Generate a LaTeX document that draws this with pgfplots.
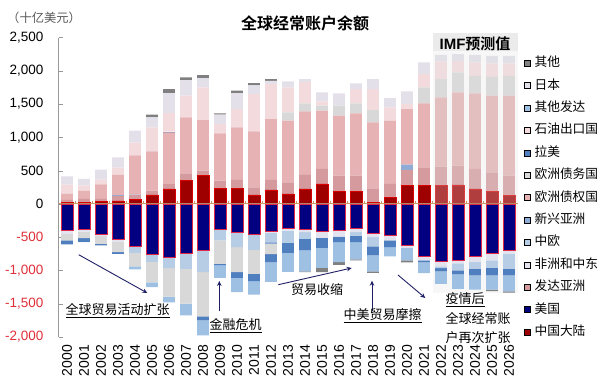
\documentclass[border=0pt]{standalone}
\usepackage{pgfplots}
\pgfplotsset{compat=1.18}
\usepackage{pgfplotstable}
\usetikzlibrary{arrows.meta}
\usepackage{fontspec}
\setmainfont{Liberation Sans}
\newfontfamily\cjk{Noto Sans CJK SC}[BoldFont={Noto Sans CJK SC Bold}]
\definecolor{cOth}{HTML}{808080}
\definecolor{cJP}{HTML}{E3E0EA}
\definecolor{cODV}{HTML}{9DC0E3}
\definecolor{cOIL}{HTML}{F3DADD}
\definecolor{cLAM}{HTML}{4F7FBE}
\definecolor{cEDB}{HTML}{D8D8D8}
\definecolor{cECR}{HTML}{E6B2B4}
\definecolor{cEMA}{HTML}{8FACD6}
\definecolor{cCEU}{HTML}{B7CDE6}
\definecolor{cAFME}{HTML}{E2E3EF}
\definecolor{cDVA}{HTML}{D59A9D}
\definecolor{cUS}{HTML}{000080}
\definecolor{cCN}{HTML}{9E0000}
\definecolor{cRed}{HTML}{E0303A}
\definecolor{cArrow}{HTML}{1F1F66}
\definecolor{cZero}{HTML}{CC9966}
\definecolor{cBox}{HTML}{E2E2E2}

% positive parts (stack bottom -> top)
\pgfplotstableread{
x  cn  dva ema ecr  edb lam oil jp  oth
0  25  35  0   90   0   0   140 125 0
1  25  50  0   125  0   0   80  95  0
2  35  40  0   220  0   0   70  150 0
3  45  75  10  305  0   0   110 155 0
4  70  60  10  590  0   0   190 180 0
5  135 65  0   590  0   0   360 150 40
6  225 85  0   765  0   12  275 303 60
7  350 110 0   840  0   0   325 235 40
8  425 75  0   760  0   0   490 140 45
9  235 115 0   710  0   0   140 140 20
10 235 125 0   790  0   0   275 240 35
11 135 115 0   840  0   0   560 130 35
12 210 150 0   915  0   0   525 50  25
13 150 175 0   925  125 0   375 90  0
14 225 210 0   955  120 0   325 40  0
15 300 225 0   875  75  0   65  135 0
16 190 235 0   900  150 0   0   185 0
17 190 235 0   935  150 0   215 85  0
18 25  210 0   990  185 0   315 150 0
19 100 200 0   950  0   0   200 140 0
20 275 235 80  835  0   0   75  190 0
21 275 275 0   960  240 0   200 175 0
22 275 285 0   1040 275 0   265 100 0
23 285 290 0   1100 300 0   175 100 0
24 225 300 0   1135 265 0   200 115 0
25 185 290 0   1150 285 0   200 115 0
26 125 300 0   1200 300 0   185 115 0
}\pos

% negative parts (stack 0 -> down)
\pgfplotstableread{
x  us   afme ceu  ema edb  lam  odv  oth
0  -400 -50  0    0   -100 -60  0    0
1  -385 -30  0    0   -100 -55  -5   0
2  -450 -30  0    0   -120 -25  0    0
3  -525 -40  0    0   -160 -25  0    0
4  -640 0    -95  0   -205 0    -45  0
5  -750 0    -120 0   -310 0    -70  0
6  -805 0    -160 0   -430 0    -85  0
7  -735 0    -240 0   -525 0    -175 0
8  -690 0    -335 0   -665 -60  -225 0
9  -375 0    -175 0   -350 -20  -190 0
10 -425 0    -225 0   -375 -85  -215 0
11 -450 0    -240 0   -360 -110 -205 0
12 -410 -20  -150 -20 -155 -125 -290 0
13 -360 -40  -185 0   0    -150 -285 0
14 -375 -50  -100 0   0    -170 -320 -10
15 -410 -100 0    0   0    -150 -300 -65
16 -400 -90  0    0   0    -85  -300 -40
17 -360 -65  -50  0   0    -100 -260 -15
18 -435 -65  -140 0   0    -135 -240 -20
19 -475 -75  0    0   0    -100 -140 0
20 -615 -45  0    0   0    0    -190 -30
21 -790 -60  0    0   0    -30  -160 0
22 -865 -75  -25  0   0    -50  -185 0
23 -850 -45  -105 0   0    -60  -215 0
24 -790 -85  -100 0   0    -100 -215 0
25 -740 -110 -110 0   0    -115 -215 -20
26 -690 -60  -225 0   0    -100 -240 -20
}\neg

\pgfplotsset{base/.style={
  at={(58.5pt,41pt)}, anchor=south west, scale only axis,
  width=459pt, height=299.5pt,
  xmin=-0.5, xmax=26.5, ymin=-2000, ymax=2500,
  ybar stacked, bar width=11.7pt, clip=false,
}}

\begin{document}
\begin{tikzpicture}
\useasboundingbox (0,0) rectangle (604pt,378pt);

% ---------- positive stack, with the axes ----------
\begin{axis}[base,
  axis x line*=bottom, axis y line*=left,
  x axis line style={draw=none},
  y axis line style={draw=gray!80},
  xtick={0,...,26},
  xticklabels={2000,2001,2002,2003,2004,2005,2006,2007,2008,2009,2010,2011,2012,2013,2014,2015,2016,2017,2018,2019,2020,2021,2022,2023,2024,2025,2026},
  major x tick style={draw=none},
  xticklabel style={rotate=90, anchor=east, inner sep=0pt, font=\fontsize{14}{14}\selectfont},
  xticklabel shift=8pt,
  ytick={-2000,-1500,-1000,-500,0,500,1000,1500,2000,2500},
  yticklabels={{\textcolor{cRed}{-2,000}},{\textcolor{cRed}{-1,500}},{\textcolor{cRed}{-1,000}},{\textcolor{cRed}{-500}},{0},{500},{1,000},{1,500},{2,000},{2,500}},
  yticklabel style={inner sep=0pt, font=\fontsize{13.5}{14}\selectfont},
  yticklabel shift=15pt,
  major y tick style={draw=gray!80},
  tick align=inside, major tick length=4pt,
]
\addplot[fill=cCN, draw=red!85!black, line width=0.4pt] table[x=x,y=cn]{\pos};
\addplot[fill=cDVA, draw=none] table[x=x,y=dva]{\pos};
\addplot[fill=cEMA, draw=none] table[x=x,y=ema]{\pos};
\addplot[fill=cECR, draw=none] table[x=x,y=ecr]{\pos};
\addplot[fill=cEDB, draw=none] table[x=x,y=edb]{\pos};
\addplot[fill=cLAM, draw=none] table[x=x,y=lam]{\pos};
\addplot[fill=cOIL, draw=none] table[x=x,y=oil]{\pos};
\addplot[fill=cJP, draw=none] table[x=x,y=jp]{\pos};
\addplot[fill=cOth, draw=none] table[x=x,y=oth]{\pos};
\end{axis}

% ---------- negative stack, overlays and legend ----------
\begin{axis}[base, hide axis,
  legend style={at={(1.0142,0.9366)}, anchor=north west, draw=none, fill=none,
    font=\cjk\fontsize{12.7}{13}\selectfont, row sep=9.4pt, column sep=4pt,
    inner sep=0pt, nodes={inner sep=0pt, text height=10pt, text depth=3pt, anchor=west}},
  legend cell align=left,
  legend image code/.code={\fill[#1] (0pt,-3pt) rectangle (6pt,3pt);},
]
\addplot[fill=cUS, draw={rgb,255:red,225;green,40;blue,70}, line width=0.5pt, forget plot] table[x=x,y=us]{\neg};
\addplot[fill=cAFME, draw=none, forget plot] table[x=x,y=afme]{\neg};
\addplot[fill=cCEU, draw=none, forget plot] table[x=x,y=ceu]{\neg};
\addplot[fill=cEMA, draw=none, forget plot] table[x=x,y=ema]{\neg};
\addplot[fill=cEDB, draw=none, forget plot] table[x=x,y=edb]{\neg};
\addplot[fill=cLAM, draw=none, forget plot] table[x=x,y=lam]{\neg};
\addplot[fill=cODV, draw=none, forget plot] table[x=x,y=odv]{\neg};
\addplot[fill=cOth, draw=none, forget plot] table[x=x,y=oth]{\neg};

\addlegendimage{fill=cOth}\addlegendentry{其他}
\addlegendimage{fill=cJP}\addlegendentry{日本}
\addlegendimage{fill=cODV}\addlegendentry{其他发达}
\addlegendimage{fill=cOIL}\addlegendentry{石油出口国}
\addlegendimage{fill=cLAM}\addlegendentry{拉美}
\addlegendimage{fill=cEDB}\addlegendentry{欧洲债务国}
\addlegendimage{fill=cECR}\addlegendentry{欧洲债权国}
\addlegendimage{fill=cEMA}\addlegendentry{新兴亚洲}
\addlegendimage{fill=cCEU}\addlegendentry{中欧}
\addlegendimage{fill=cAFME}\addlegendentry{非洲和中东}
\addlegendimage{fill=cDVA}\addlegendentry{发达亚洲}
\addlegendimage{fill=cUS}\addlegendentry{美国}
\addlegendimage{fill=cCN}\addlegendentry{中国大陆}

% zero line with small ticks
\draw[cZero, line width=0.8pt] (axis cs:-0.5,0) -- (axis cs:26.5,0);
\pgfplotsinvokeforeach{0.5,1.5,...,25.5}{\draw[cZero, line width=0.6pt] (axis cs:#1,0) -- (axis cs:#1,45);}

% IMF forecast box
\fill[cBox, opacity=0.28] (axis cs:21.5,-1345) rectangle (axis cs:26.5,2565);
\fill[cBox, opacity=0.55] (axis cs:21.5,2290) rectangle (axis cs:26.5,2565);
\end{axis}

% forecast label, drawn outside the axis at full opacity
\node[font=\bfseries\fontsize{15}{15}\selectfont, inner sep=0pt, text=black, opacity=1, text opacity=1] at (475pt,334pt) {IMF{\cjk\bfseries 预测值}};

% titles
\node[font=\cjk\bfseries\fontsize{16}{16}\selectfont, inner sep=0pt] at (305pt,355pt) {全球经常账户余额};
\node[anchor=west, font=\cjk\fontsize{12.3}{13}\selectfont, text=black!65, inner sep=0pt] at (7pt,360pt) {（十亿美元）};

% annotations
\begin{scope}[cArrow, line width=0.9pt, -{Stealth[length=5pt,width=4.5pt]}]
\draw (78.7pt,123.3pt) -- (147.3pt,85pt);
\draw (219.3pt,67pt) -- (219.3pt,97pt);
\draw (278.3pt,93.3pt) -- (351.7pt,110pt);
\draw (372pt,67pt) -- (372pt,97.3pt);
\draw (398pt,103pt) -- (425.3pt,80pt);
\end{scope}
\begin{scope}[every node/.style={anchor=west, inner sep=0pt, text=black, font=\cjk\fontsize{13}{13}\selectfont}]
\node at (65.3pt,67.3pt) {\underline{全球贸易活动扩张}};
\node at (209.3pt,52.3pt) {\underline{金融危机}};
\node at (291pt,88.3pt) {贸易收缩};
\node at (343.3pt,62.3pt) {\underline{中美贸易摩擦}};
\node at (445.3pt,78pt) {\underline{疫情后}};
\node at (445.3pt,59pt) {全球经常账};
\node at (445.3pt,40pt) {户再次扩张};
\end{scope}
\end{tikzpicture}
\end{document}
